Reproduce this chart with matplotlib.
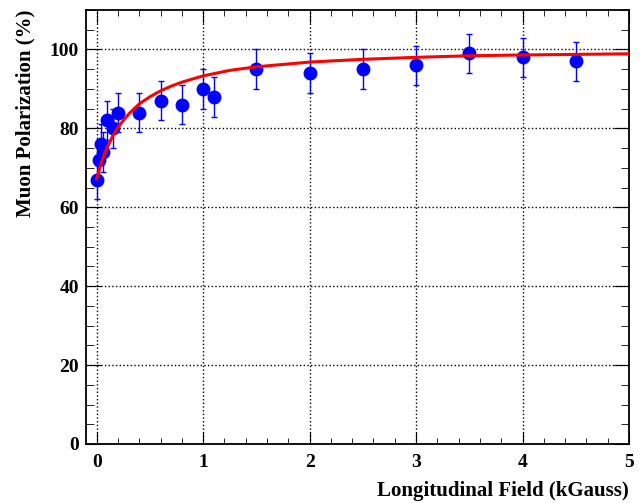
import numpy as np
import matplotlib.pyplot as plt
from matplotlib.ticker import MultipleLocator

plt.rcParams['font.family'] = ['Liberation Serif', 'DejaVu Serif']
plt.rcParams['font.weight'] = 'bold'
plt.rcParams['axes.labelweight'] = 'bold'

# --- measured points ---
field = [0.0, 0.02, 0.04, 0.06, 0.1, 0.15, 0.2, 0.4, 0.6, 0.8, 1.0, 1.1,
         1.5, 2.0, 2.5, 3.0, 3.5, 4.0, 4.5]
polar = [67.0, 72.0, 76.0, 74.0, 82.0, 80.0, 84.0, 84.0, 87.0, 86.0, 90.0, 88.0,
         95.0, 94.0, 95.0, 96.0, 99.0, 98.0, 97.0]
polar_err = [5.0] * len(field)

# --- fit curve ---
fit_x = [0.0, 0.025, 0.05, 0.075, 0.1, 0.15, 0.2, 0.25, 0.3, 0.4, 0.5, 0.6, 0.7,
         0.8, 1.0, 1.25, 1.5, 2.0, 2.5, 3.0, 3.5, 4.0, 5.0]
fit_y = [67.2, 69.6, 71.8, 73.6, 75.2, 78.0, 80.2, 82.0, 83.6, 86.2, 88.0, 89.5, 90.7,
         91.7, 93.3, 94.7, 95.6, 96.8, 97.5, 98.0, 98.4, 98.6, 98.9]

fig = plt.figure(figsize=(6.41, 5.03), dpi=100)
ax = fig.add_axes([86/641, 59/503, 543/641, 434/503])

ax.errorbar(field, polar, yerr=polar_err, fmt='o', color='blue', ms=9,
            elinewidth=1, capsize=2.5, capthick=1, zorder=3)
ax.plot(fit_x, fit_y, color='red', lw=2.2, zorder=4)

ax.set_xlim(-0.1, 5)
ax.set_ylim(0, 110)
ax.xaxis.set_major_locator(MultipleLocator(1))
ax.xaxis.set_minor_locator(MultipleLocator(0.2))
ax.yaxis.set_major_locator(MultipleLocator(20))
ax.yaxis.set_minor_locator(MultipleLocator(5))
ax.tick_params(which='both', direction='in', top=True, right=True, labelsize=14)
ax.tick_params(axis='x', which='major', length=9, pad=7)
ax.tick_params(axis='x', which='minor', length=4.5)
ax.tick_params(axis='y', which='major', length=11, pad=5)
ax.tick_params(axis='y', which='minor', length=5.5)
for sp in ax.spines.values():
    sp.set_linewidth(1.3)
ax.grid(True, which='major', linestyle=':', color='black', lw=1)

ax.set_xlabel('Longitudinal Field (kGauss)', fontsize=15, loc='right')
ax.set_ylabel('Muon Polarization (%)', fontsize=15, loc='top')
ax.xaxis.set_label_coords(1.0, -0.085)
ax.yaxis.set_label_coords(-0.093, 1.0)

fig.savefig('out.png', dpi=100)
